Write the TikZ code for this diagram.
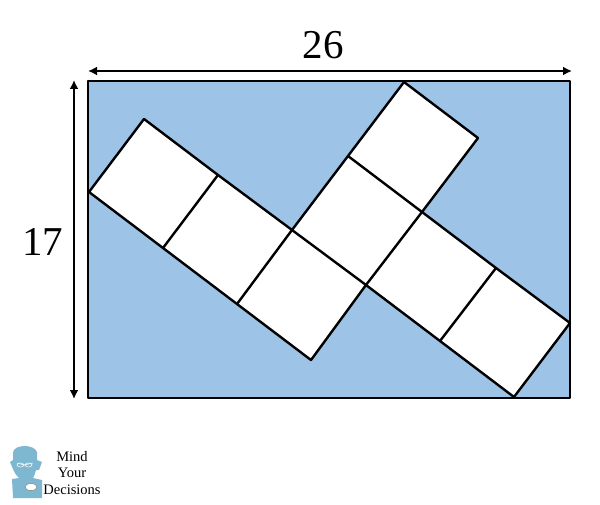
\documentclass[tikz,border=0pt]{standalone}
\usepackage{fontspec}
\setmainfont{Liberation Serif}
\usetikzlibrary{arrows.meta}
\definecolor{fieldblue}{RGB}{157,195,230}
\definecolor{logoblue}{RGB}{126,184,208}
\tikzset{
  dimline/.style={line width=2.2pt, {Latex[length=9pt,width=9pt]}-{Latex[length=9pt,width=9pt]}},
  edge/.style={line width=2.4pt, line join=round},
  dimlabel/.style={font=\fontsize{41}{41}\selectfont, inner sep=0pt},
  logotext/.style={font=\fontsize{14.5}{14.5}\selectfont, inner sep=0pt}
}
\begin{document}
\begin{tikzpicture}[x=1pt, y=-1pt]
\useasboundingbox (0,0) rectangle (600,505);
% corners of the field
\coordinate (tl) at (88,81);
\coordinate (tr) at (570,81);
\coordinate (br) at (570,398);
\coordinate (bl) at (88,398);
% outline of the squares
\coordinate (a) at (89,192);
\coordinate (b) at (144,119);
\coordinate (c) at (218,175);
\coordinate (d) at (292,230);
\coordinate (e) at (348,156);
\coordinate (f) at (404,82);
\coordinate (g) at (478,138);
\coordinate (h) at (422,212);
\coordinate (i) at (496,268);
\coordinate (j) at (570,323);
\coordinate (k) at (514,397);
\coordinate (l) at (440,341);
\coordinate (m) at (366,285);
\coordinate (n) at (311,360);
\coordinate (o) at (237,304);
\coordinate (p) at (163,248);
\draw[edge, fill=fieldblue] (tl) -- (tr) -- (br) -- (bl) -- cycle;
\draw[edge, fill=white] (a) -- (b) -- (c) -- (d) -- (e) -- (f) -- (g) -- (h) -- (i) -- (j)
  -- (k) -- (l) -- (m) -- (n) -- (o) -- (p) -- cycle;
\draw[edge] (c) -- (p);
\draw[edge] (d) -- (o);
\draw[edge] (d) -- (m);
\draw[edge] (e) -- (h);
\draw[edge] (h) -- (m);
\draw[edge] (i) -- (l);
% dimensions
\coordinate (xa) at (88,71);
\coordinate (xb) at (572,71);
\coordinate (ya) at (74,80);
\coordinate (yb) at (74,399);
\draw[dimline] (xa) -- (xb);
\draw[dimline] (ya) -- (yb);
\node[dimlabel] (width) at (323,45) {26};
\node[dimlabel] (height) at (43,242) {17};
% logo
\fill[logoblue] (13,452) .. controls (15,444) and (34,444) .. (37,452)
  -- (37,460) -- (42,462) -- (39,470) -- (36,470) .. controls (35,474) and (34,476) .. (33,478)
  -- (42,480) -- (42,498) -- (13,498) -- (12,479) -- (19,478)
  .. controls (16,475) and (14,472) .. (13,469) -- (10,462) -- (13,460) -- cycle;
\draw[white, line width=.5pt] (17,463) -- (24,465) -- (33,463);
\draw[white, line width=.5pt] (20.5,465) ellipse [x radius=3.5, y radius=2] (28.5,465) ellipse [x radius=3.5, y radius=2];
\fill[white, draw=gray, line width=.5pt] (31,487) ellipse [x radius=6, y radius=3.5];
\node[logotext] (mind) at (72,457) {Mind};
\node[logotext] (your) at (72,473) {Your};
\node[logotext] (dec) at (72,490) {Decisions};
\end{tikzpicture}
\end{document}
